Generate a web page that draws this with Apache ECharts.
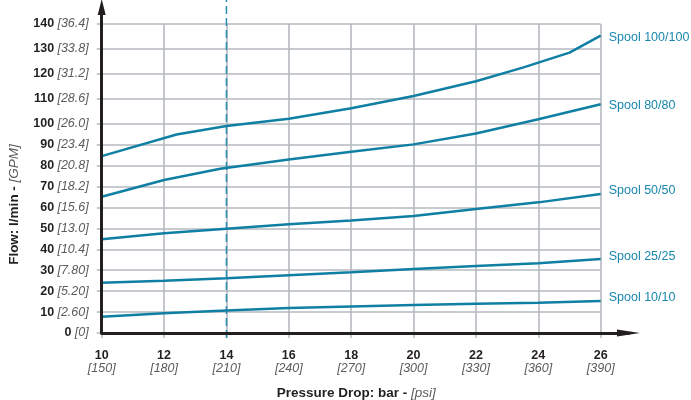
<!DOCTYPE html>
<html><head><meta charset="utf-8">
<script src="https://cdn.jsdelivr.net/npm/echarts/dist/echarts.min.js"></script>
<style>html,body{margin:0;padding:0;background:#fff}#c{width:691px;height:400px}</style>
</head><body><div id="c"></div>
<script>
// ---- data ----
const xTicks = [10, 12, 14, 16, 18, 20, 22, 24, 26];
const xPsiLabels = ['150', '180', '210', '240', '270', '300', '330', '360', '390'];
const yTicks = [0, 10, 20, 30, 40, 50, 60, 70, 80, 90, 100, 110, 120, 130, 140];
const yGpmLabels = ['0', '2.60', '5.20', '7.80', '10.4', '13.0', '15.6', '18.2', '20.8', '23.4', '26.0', '28.6', '31.2', '33.8', '36.4'];
const markerBar = 14;
const markerRange = [-2.4, 150];

const spoolNames = ['Spool 100/100', 'Spool 80/80', 'Spool 50/50', 'Spool 25/25', 'Spool 10/10'];
const spool100 = [[10, 84.5], [12.4, 94.8], [14, 98.9], [16, 102], [18, 106.2], [20, 111.1], [22, 117], [23.5, 122.5], [25, 128.5], [26, 135.3]];
const spool80 = [[10, 65.1], [12, 73.1], [13.8, 78.5], [16, 82.9], [18, 86.6], [20, 90.1], [22, 95.3], [24, 101.8], [26, 107.8]];
const spool50 = [[10, 44.8], [12, 47.6], [14, 49.8], [16, 51.9], [18, 53.7], [20, 55.9], [22, 59.2], [24, 62.4], [26, 66.4]];
const spool25 = [[10, 24.0], [12, 25.0], [14, 26.1], [16, 27.6], [18, 29.0], [20, 30.6], [22, 32.0], [24, 33.3], [26, 35.4]];
const spool10 = [[10, 7.8], [12, 9.4], [14, 10.7], [16, 11.9], [18, 12.7], [20, 13.4], [22, 14.0], [24, 14.5], [26, 15.3]];

// ---- piecewise y scale (upper band drawn wider, as in the original) ----
const BREAK = 100, K = 1.19;
const disp = v => v <= BREAK ? v : BREAK + (v - BREAK) * K;
const undisp = d => d <= BREAK ? d : BREAK + (d - BREAK) / K;

const TEAL = '#0f7fa3', LABEL_TEAL = '#1a87ae', GRID = '#b5babf', INK = '#231f20', GREYTXT = '#5a5b5d';
const FONT = '"Liberation Sans", Arial, Helvetica, sans-serif';

const chart = echarts.init(document.getElementById('c'), null, {renderer: 'canvas'});
const yCustom = yTicks.map(disp);
const seriesData = [spool100, spool80, spool50, spool25, spool10];
const labelOffsets = [[0, 2], [0, 1], [0, -3], [0, -2], [0, -3]];

const lineSeries = seriesData.map((d, i) => ({
  name: spoolNames[i], type: 'line', xAxisIndex: 0, yAxisIndex: 0,
  data: d.map(p => [p[0], disp(p[1])]),
  symbol: 'none', smooth: false,
  lineStyle: {color: TEAL, width: 2.5},
  endLabel: {show: true, formatter: spoolNames[i], color: LABEL_TEAL, fontSize: 12.5, fontFamily: FONT,
             distance: 8, offset: labelOffsets[i]},
  z: 3, silent: true
}));

const option = {
  animation: false,
  grid: [
    {left: 101.7, right: 90.3, top: 24, bottom: 67, containLabel: false, outerBoundsMode: 'none'},
    {left: 101.7, right: 62.5, top: 7, bottom: 67, containLabel: false, outerBoundsMode: 'none'}
  ],
  xAxis: [
    {type: 'value', gridIndex: 0, min: 10, max: 26, interval: 2,
     axisLine: {show: false},
     axisTick: {show: true, length: 5, lineStyle: {color: GRID, width: 1.5}},
     splitLine: {show: true, lineStyle: {color: GRID, width: 1.6}},
     axisLabel: {margin: 13, lineHeight: 15, fontFamily: FONT,
       formatter: v => { const i = xTicks.indexOf(v); return '{b|' + v + '}\n{i|[' + xPsiLabels[i] + ']}'; },
       rich: {b: {fontWeight: 'bold', fontSize: 12.5, color: INK, fontFamily: FONT, lineHeight: 15, padding: [4, 0, 0, 0]},
              i: {fontStyle: 'italic', fontSize: 12.5, color: GREYTXT, fontFamily: FONT, lineHeight: 15}}},
     name: '{b|Pressure Drop: bar - }{i|[psi]}', nameLocation: 'middle', nameGap: 53,
     nameTextStyle: {padding: [0, 0, 0, 10],
       rich: {b: {fontWeight: 'bold', fontSize: 13.5, color: INK, fontFamily: FONT},
              i: {fontStyle: 'italic', fontSize: 13.5, color: GREYTXT, fontFamily: FONT}}}},
    {type: 'value', gridIndex: 1, min: 10, max: 10 + (628.5 - 101.7) / (499 / 16),
     axisLine: {show: true, onZero: false, symbol: ['none', 'triangle'], symbolSize: [7, 23], lineStyle: {color: INK, width: 3}},
     axisTick: {show: false}, axisLabel: {show: false}, splitLine: {show: false}, z: 5}
  ],
  yAxis: [
    {type: 'value', gridIndex: 0, min: 0, max: disp(140),
     axisLine: {show: false},
     axisTick: {show: true, length: 5, customValues: yCustom, lineStyle: {color: GRID, width: 1.5}},
     splitLine: {show: true, lineStyle: {color: GRID, width: 1.6}},
     axisLabel: {customValues: yCustom, margin: 13, fontFamily: FONT,
       formatter: v => { const r = Math.round(undisp(v)); const i = yTicks.indexOf(r); return '{b|' + r + '} {i|[' + yGpmLabels[i] + ']}'; },
       rich: {b: {fontWeight: 'bold', fontSize: 12.5, color: INK, fontFamily: FONT},
              i: {fontStyle: 'italic', fontSize: 12.5, color: GREYTXT, fontFamily: FONT}}},
     name: '{b|Flow: l/min - }{i|[GPM]}', nameLocation: 'middle', nameGap: 80, nameRotate: 90,
     nameTextStyle: {padding: [0, 52, 0, 0],
       rich: {b: {fontWeight: 'bold', fontSize: 13.5, color: INK, fontFamily: FONT},
              i: {fontStyle: 'italic', fontSize: 13.5, color: GREYTXT, fontFamily: FONT}}}},
    {type: 'value', gridIndex: 1, min: 0, max: (333 - 7) / (309 / disp(140)),
     axisLine: {show: true, onZero: false, symbol: ['none', 'triangle'], symbolSize: [8, 16], lineStyle: {color: INK, width: 3}},
     axisTick: {show: false}, axisLabel: {show: false}, splitLine: {show: false}, z: 5}
  ],
  series: lineSeries.concat([{
    name: 'marker', type: 'line', xAxisIndex: 1, yAxisIndex: 1, clip: false,
    data: [[markerBar, disp(markerRange[0])], [markerBar, disp(markerRange[1])]],
    symbol: 'none', lineStyle: {color: '#2a8cb3', width: 1.5, type: [8, 4]}, z: 2, silent: true
  }])
};
chart.setOption(option);
</script>
</body></html>
